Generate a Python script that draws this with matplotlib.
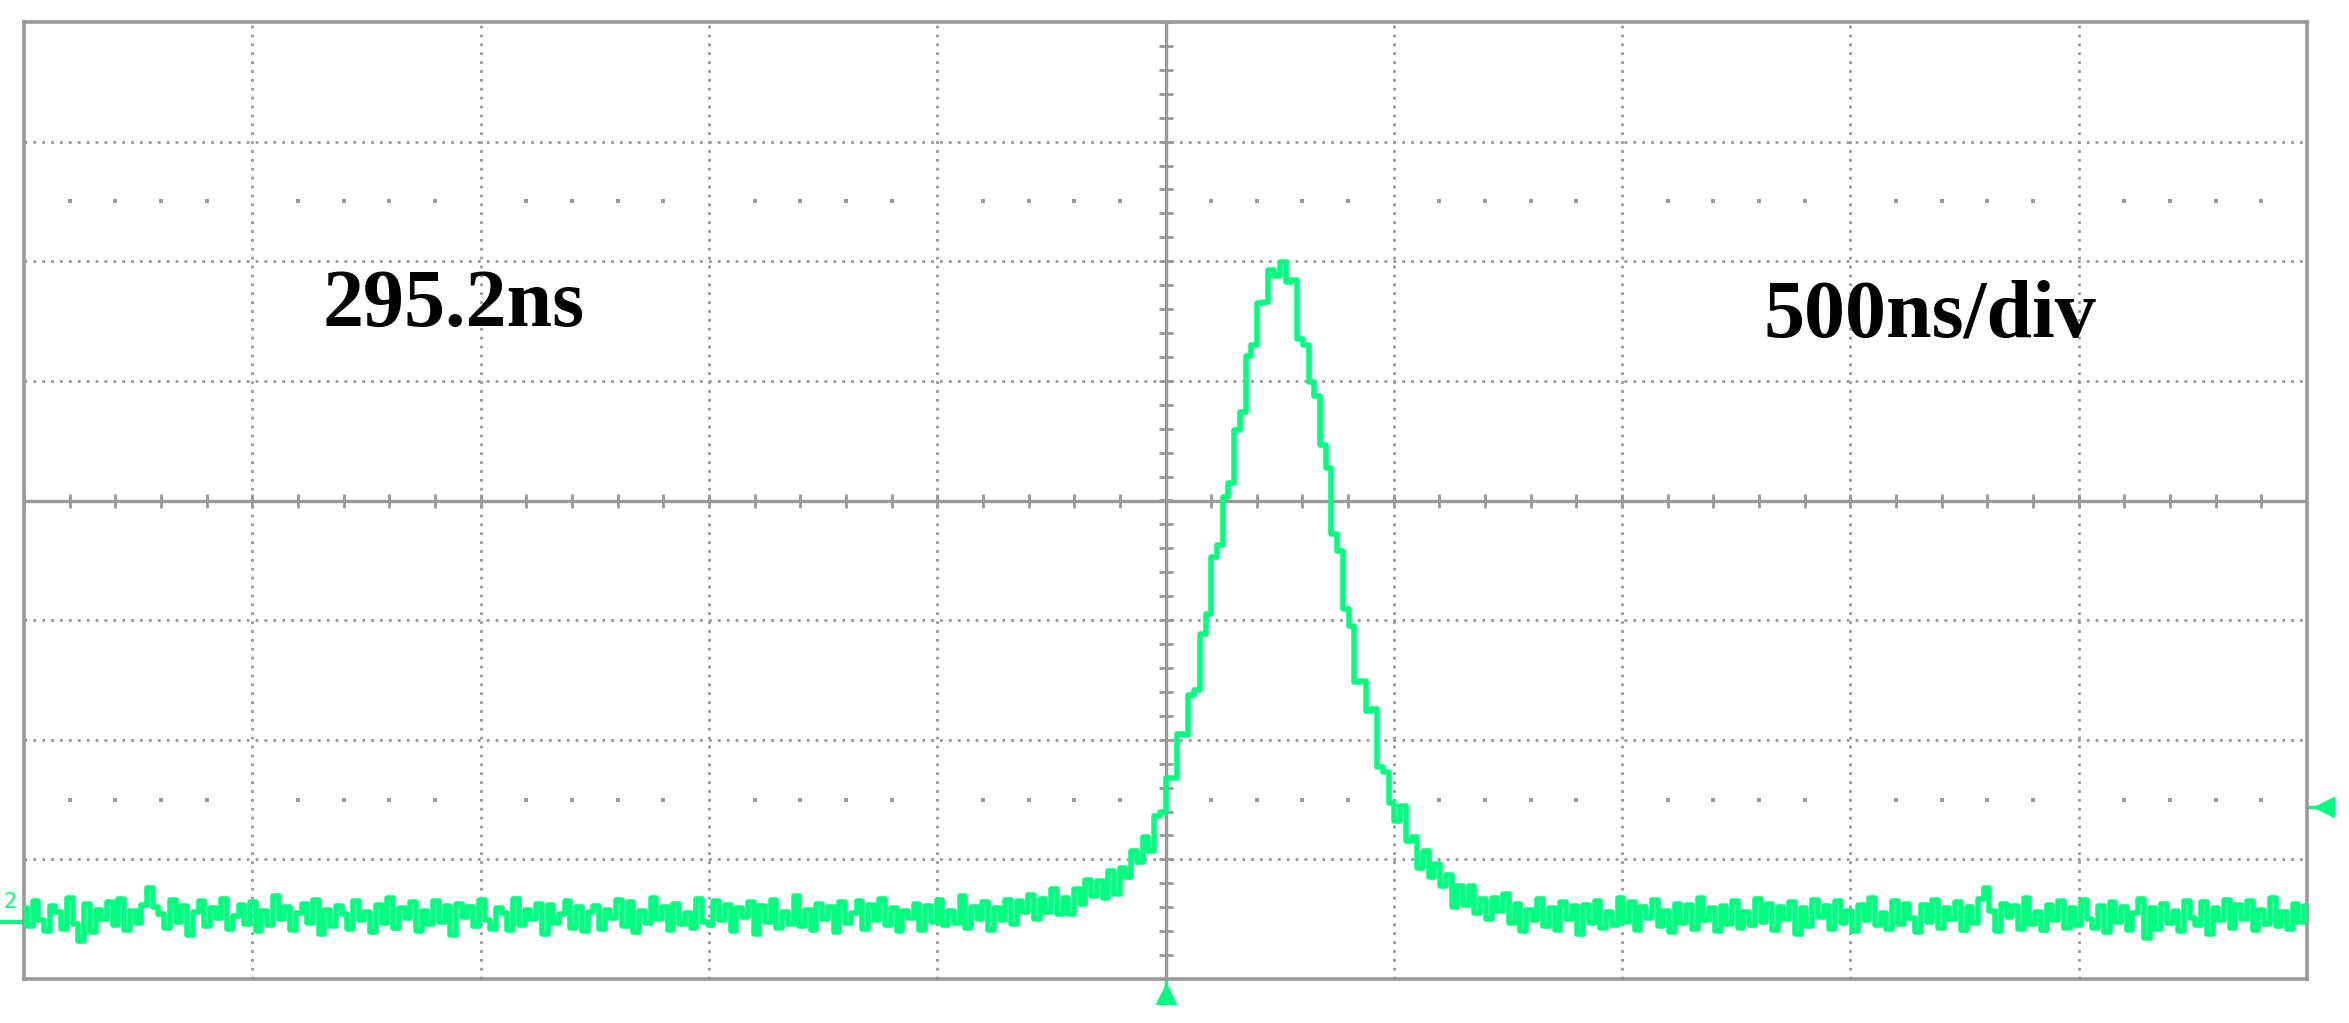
import numpy as np
import matplotlib
matplotlib.use('Agg')
import matplotlib.pyplot as plt

# scope screen: 10 x 8 divisions, 500 ns/div
NS_PER_DIV = 500
N_DIV_X = 10
N_DIV_Y = 8

PULSE_WIDTH_LABEL = '295.2ns'
TIMEBASE_LABEL = '500ns/div'
CHANNEL_LABEL = '2'

TRIGGER_TIME_NS = 0
TRIGGER_LEVEL_DIV = -2.56
CH2_GROUND_DIV = -3.52

# channel 2 samples (divisions from screen centre), 400 points across the screen
trace_div = [
    -3.41, -3.56, -3.35, -3.51, -3.60, -3.39, -3.44, -3.58, -3.32, -3.54, -3.68, -3.37, -3.61, -3.42, -3.50, -3.36, -3.55, -3.33, -3.59, -3.43,
    -3.53, -3.38, -3.24, -3.40, -3.46, -3.57, -3.34, -3.52, -3.39, -3.63, -3.44, -3.35, -3.56, -3.41, -3.49, -3.33, -3.58, -3.47, -3.38, -3.54,
    -3.36, -3.60, -3.43, -3.55, -3.31, -3.50, -3.40, -3.59, -3.45, -3.37, -3.53, -3.34, -3.62, -3.42, -3.56, -3.39, -3.46, -3.58, -3.35, -3.51,
    -3.44, -3.61, -3.38, -3.53, -3.32, -3.57, -3.41, -3.49, -3.36, -3.60, -3.43, -3.54, -3.35, -3.52, -3.39, -3.63, -3.37, -3.48, -3.40, -3.56,
    -3.34, -3.51, -3.58, -3.41, -3.45, -3.59, -3.33, -3.55, -3.42, -3.50, -3.37, -3.62, -3.38, -3.53, -3.46, -3.35, -3.57, -3.40, -3.60, -3.44,
    -3.39, -3.58, -3.42, -3.49, -3.34, -3.56, -3.36, -3.61, -3.43, -3.53, -3.32, -3.50, -3.40, -3.59, -3.37, -3.54, -3.45, -3.57, -3.33, -3.52,
    -3.55, -3.35, -3.51, -3.38, -3.60, -3.41, -3.48, -3.36, -3.62, -3.39, -3.52, -3.34, -3.57, -3.44, -3.54, -3.31, -3.56, -3.42, -3.59, -3.37,
    -3.50, -3.40, -3.61, -3.36, -3.53, -3.45, -3.35, -3.58, -3.38, -3.51, -3.33, -3.55, -3.41, -3.60, -3.43, -3.49, -3.37, -3.59, -3.39, -3.52,
    -3.34, -3.55, -3.43, -3.53, -3.31, -3.57, -3.40, -3.50, -3.36, -3.59, -3.41, -3.51, -3.34, -3.54, -3.35, -3.44, -3.30, -3.50, -3.33, -3.44,
    -3.25, -3.46, -3.32, -3.46, -3.25, -3.37, -3.17, -3.31, -3.18, -3.32, -3.10, -3.29, -3.07, -3.15, -2.93, -3.02, -2.81, -2.93, -2.64, -2.60,
    -2.32, -2.32, -1.95, -1.96, -1.63, -1.58, -1.12, -0.95, -0.47, -0.37, 0.03, 0.15, 0.59, 0.74, 1.21, 1.30, 1.65, 1.66, 1.93, 1.88,
    1.99, 1.83, 1.84, 1.35, 1.30, 0.99, 0.87, 0.46, 0.27, -0.28, -0.42, -0.91, -1.05, -1.52, -1.51, -1.76, -1.74, -2.23, -2.27, -2.53,
    -2.68, -2.55, -2.85, -2.81, -3.07, -2.93, -3.15, -3.04, -3.22, -3.13, -3.40, -3.22, -3.38, -3.22, -3.45, -3.33, -3.50, -3.32, -3.43, -3.29,
    -3.53, -3.37, -3.60, -3.42, -3.51, -3.33, -3.56, -3.41, -3.59, -3.36, -3.50, -3.39, -3.62, -3.38, -3.53, -3.35, -3.57, -3.44, -3.55, -3.32,
    -3.52, -3.36, -3.59, -3.40, -3.49, -3.34, -3.56, -3.43, -3.61, -3.37, -3.53, -3.38, -3.58, -3.32, -3.51, -3.41, -3.60, -3.39, -3.54, -3.35,
    -3.57, -3.44, -3.55, -3.33, -3.52, -3.37, -3.59, -3.40, -3.50, -3.36, -3.62, -3.41, -3.56, -3.34, -3.48, -3.39, -3.58, -3.35, -3.53, -3.43,
    -3.60, -3.38, -3.51, -3.32, -3.55, -3.45, -3.58, -3.35, -3.54, -3.37, -3.49, -3.61, -3.38, -3.52, -3.34, -3.57, -3.41, -3.50, -3.36, -3.59,
    -3.40, -3.53, -3.33, -3.24, -3.43, -3.60, -3.37, -3.48, -3.39, -3.58, -3.32, -3.54, -3.44, -3.59, -3.38, -3.51, -3.35, -3.57, -3.41, -3.55,
    -3.34, -3.50, -3.57, -3.39, -3.61, -3.36, -3.52, -3.40, -3.59, -3.45, -3.33, -3.66, -3.41, -3.58, -3.37, -3.53, -3.43, -3.60, -3.35, -3.49,
    -3.55, -3.36, -3.62, -3.41, -3.51, -3.34, -3.57, -3.38, -3.50, -3.35, -3.59, -3.42, -3.54, -3.32, -3.56, -3.44, -3.58, -3.37, -3.52, -3.39,
]

GRID = '#999999'
TRACE = '#00ff7f'

W, H = 2349, 1023
fig = plt.figure(figsize=(W / 100, H / 100), dpi=100)
fig.patch.set_facecolor('white')
# screen area in pixels: x 24..2307, y 22..979
ax = fig.add_axes([24 / W, 1 - 979 / H, (2307 - 24) / W, (979 - 22) / H])

half_x = NS_PER_DIV * N_DIV_X / 2
half_y = N_DIV_Y / 2
ax.set_xlim(-half_x, half_x)
ax.set_ylim(-half_y, half_y)
ax.set_xticks([])
ax.set_yticks([])
for s in ax.spines.values():
    s.set_color(GRID)
    s.set_linewidth(2.6)

# dotted graticule
for k in range(1, N_DIV_X // 2):
    for sgn in (-1, 1):
        ax.axvline(sgn * k * NS_PER_DIV, color=GRID, lw=2.0, ls=(0, (1, 2.2)), zorder=1)
for k in range(1, N_DIV_Y // 2):
    for sgn in (-1, 1):
        ax.axhline(sgn * k, color=GRID, lw=2.0, ls=(0, (1, 2.2)), zorder=1)

# centre cross with minor ticks
ax.axhline(0, color=GRID, lw=2.4, zorder=1)
ax.axvline(0, color=GRID, lw=2.4, zorder=1)
px_ns = NS_PER_DIV / ((2307 - 24) / N_DIV_X)
px_div = 1 / ((979 - 22) / N_DIV_Y)
minor_y = np.arange(-half_y, half_y + 0.01, 0.2)
minor_x = np.arange(-half_x, half_x + 1, NS_PER_DIV / 5)
ax.hlines(minor_y, -7 * px_ns, 7 * px_ns, color=GRID, lw=2.0, zorder=1)
ax.vlines(minor_x, -7 * px_div, 7 * px_div, color=GRID, lw=2.0, zorder=1)

# rows of dots at +/-2.5 div
dot_x = [x for x in minor_x if abs(x) % NS_PER_DIV > 1 and abs(x) < half_x]
for yy in (2.5, -2.5):
    ax.plot(dot_x, [yy] * len(dot_x), ls='none', marker='s', ms=2.3, color=GRID, mew=0, zorder=1)

# trace
t_ns = np.linspace(-half_x, half_x, len(trace_div))
ax.plot(t_ns, trace_div, color=TRACE, lw=4.0, drawstyle='steps-mid', zorder=3)

# trigger / channel markers outside the screen
ax.plot([TRIGGER_TIME_NS, TRIGGER_TIME_NS], [-half_y, -half_y - 6 * px_div], color=TRACE, lw=2.5, clip_on=False)
ax.plot([TRIGGER_TIME_NS], [-half_y - 15 * px_div], marker='^', ms=15, color=TRACE, mec=TRACE, clip_on=False)
ax.plot([half_x, half_x + 10 * px_ns], [TRIGGER_LEVEL_DIV] * 2, color=TRACE, lw=2.5, clip_on=False)
ax.plot([half_x + 17 * px_ns], [TRIGGER_LEVEL_DIV], marker='<', ms=15, color=TRACE, mec=TRACE, clip_on=False)
ax.plot([-half_x - 24 * px_ns, -half_x], [CH2_GROUND_DIV] * 2, color=TRACE, lw=3, clip_on=False)
fig.text(17 / W, 1 - 908 / H, CHANNEL_LABEL, color=TRACE, fontsize=15, ha='right', va='baseline',
         family='DejaVu Sans')

# annotations
fig.text(322 / W, 1 - 326 / H, PULSE_WIDTH_LABEL, fontsize=59, fontweight='bold',
         family='Liberation Serif', ha='left', va='baseline')
fig.text(1763 / W, 1 - 337 / H, TIMEBASE_LABEL, fontsize=59, fontweight='bold',
         family='Liberation Serif', ha='left', va='baseline')

fig.savefig('out.png', dpi=100, facecolor='white')
